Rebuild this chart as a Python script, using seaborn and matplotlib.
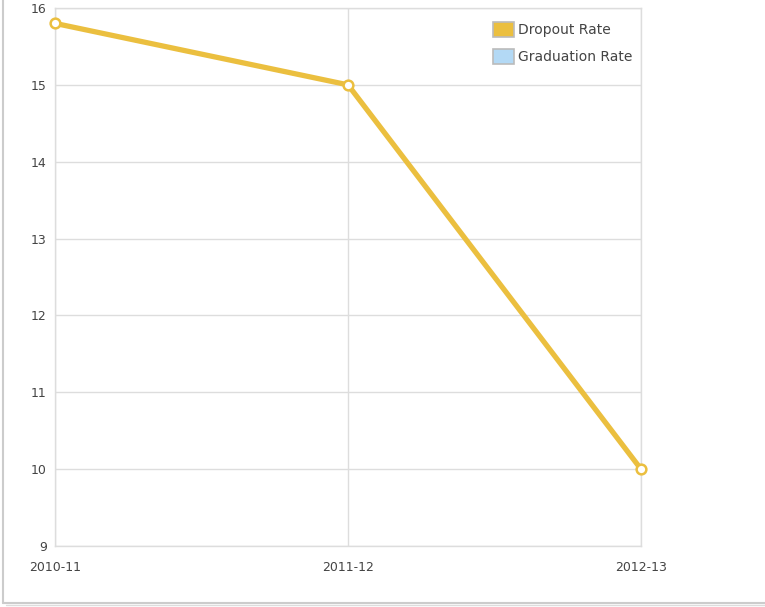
import matplotlib
matplotlib.use("Agg")
import matplotlib.pyplot as plt
from matplotlib.patches import Patch
from matplotlib.lines import Line2D
import seaborn as sns
import pandas as pd

years = ["2010-11", "2011-12", "2012-13"]
dropout_rate = [15.8, 15.0, 10.0]
y_ticks = [9, 10, 11, 12, 13, 14, 15, 16]
series_names = ["Dropout Rate", "Graduation Rate"]
series_colors = ["#EBBF3F", "#B3D9F5"]

sns.set_theme(style="white")
plt.rcParams["font.family"] = ["DejaVu Sans"]

df = pd.DataFrame({"year": years, "rate": dropout_rate})

fig = plt.figure(figsize=(7.65, 6.07), dpi=100)
ax = fig.add_axes([55 / 765, 61 / 607, (641 - 55) / 765, (546 - 8) / 607])

sns.lineplot(data=df, x="year", y="rate", ax=ax, color=series_colors[0],
             linewidth=3.8, marker="o", markersize=7, markerfacecolor="white",
             markeredgecolor=series_colors[0], markeredgewidth=1.8, sort=False,
             clip_on=False, zorder=5)

ax.set_xlim(0, len(years) - 1)
ax.set_ylim(y_ticks[0], y_ticks[-1])
ax.set_yticks(y_ticks)
ax.set_xticks(range(len(years)))
ax.set_xticklabels(years)
ax.set_xlabel("")
ax.set_ylabel("")
ax.grid(True, color="#DDDDDD", linewidth=1)
ax.set_axisbelow(True)
for side in ["top", "bottom", "left", "right"]:
    ax.spines[side].set_visible(True)
    ax.spines[side].set_color("#DDDDDD")
    ax.spines[side].set_linewidth(1)
ax.tick_params(axis="both", length=0, labelsize=9, labelcolor="#444444")
ax.tick_params(axis="x", pad=11)
ax.tick_params(axis="y", pad=6)

handles = [Patch(facecolor=c, edgecolor="#BBBBBB", linewidth=1.2) for c in series_colors]
leg = ax.legend(handles, series_names, loc="upper right", frameon=False,
                fontsize=10, handlelength=1.55, handleheight=1.3,
                handletextpad=0.3, labelspacing=0.85,
                bbox_to_anchor=(1.0, 0.99), borderaxespad=0.2)
for t in leg.get_texts():
    t.set_color("#444444")

# Outer frame lines on the left and bottom of the figure
fig.add_artist(Line2D([3 / 765, 3 / 765], [4 / 607, 1.0], transform=fig.transFigure,
                      color="#CCCCCC", linewidth=1.5))
fig.add_artist(Line2D([3 / 765, 1.0], [4 / 607, 4 / 607], transform=fig.transFigure,
                      color="#CCCCCC", linewidth=1.5))
fig.add_artist(Line2D([6 / 765, 1.0], [2 / 607, 2 / 607], transform=fig.transFigure,
                      color="#DDDDDD", linewidth=1))

fig.savefig("out.png", dpi=100)
